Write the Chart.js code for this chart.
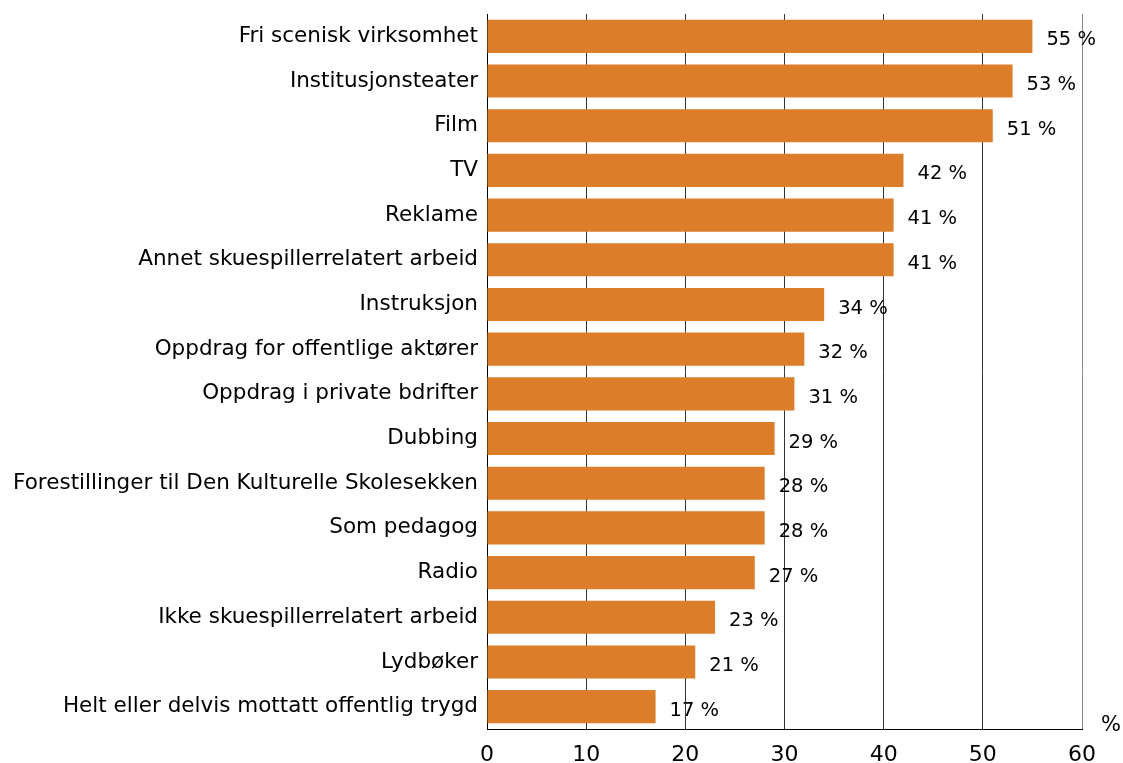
<!DOCTYPE html>
<html>
<head>
<meta charset="utf-8">
<script src="https://cdn.jsdelivr.net/npm/chart.js@4/dist/chart.umd.min.js"></script>
<style>
  html, body { margin: 0; padding: 0; background: #fff; }
  #wrap { width: 1123px; height: 763px; position: relative; }
</style>
</head>
<body>
<div id="wrap"><canvas id="chart"></canvas></div>
<script>
// kategorier og andeler (%)
var categories = [
  'Fri scenisk virksomhet',
  'Institusjonsteater',
  'Film',
  'TV',
  'Reklame',
  'Annet skuespillerrelatert arbeid',
  'Instruksjon',
  'Oppdrag for offentlige aktører',
  'Oppdrag i private bdrifter',
  'Dubbing',
  'Forestillinger til Den Kulturelle Skolesekken',
  'Som pedagog',
  'Radio',
  'Ikke skuespillerrelatert arbeid',
  'Lydbøker',
  'Helt eller delvis mottatt offentlig trygd'
];
var shares = [55, 53, 51, 42, 41, 41, 34, 32, 31, 29, 28, 28, 27, 23, 21, 17];
var xTicks = [0, 10, 20, 30, 40, 50, 60];

var FONT = 'DejaVu Sans, Verdana, sans-serif';

// verdi-etiketter + "%" ved aksen
var labelPlugin = {
  id: 'labels',
  afterDatasetsDraw: function(chart) {
    var ctx = chart.ctx;
    var meta = chart.getDatasetMeta(0);
    ctx.save();
    ctx.font = '19.5px ' + FONT;
    ctx.fillStyle = '#000';
    ctx.textAlign = 'left';
    ctx.textBaseline = 'middle';
    meta.data.forEach(function(bar, i) {
      ctx.fillText(shares[i] + ' %', bar.x + 14, bar.y + 4);
    });
    ctx.font = '21px ' + FONT;
    ctx.textAlign = 'center';
    ctx.fillText('%', chart.chartArea.right + 29, chart.chartArea.bottom - 3);
    ctx.restore();
  }
};

new Chart(document.getElementById('chart'), {
  type: 'bar',
  data: {
    labels: categories,
    datasets: [{
      data: shares,
      backgroundColor: '#db7d29',
      borderWidth: 0,
      categoryPercentage: 1,
      barPercentage: 0.74
    }]
  },
  options: {
    indexAxis: 'y',
    responsive: true,
    maintainAspectRatio: false,
    animation: false,
    devicePixelRatio: 1,
    layout: { padding: { top: 14, right: 41, left: 0, bottom: 0 } },
    plugins: {
      legend: { display: false },
      tooltip: { enabled: false }
    },
    scales: {
      x: {
        min: 0,
        max: 60,
        afterBuildTicks: function(scale) {
          scale.ticks = xTicks.map(function(v) { return { value: v }; });
        },
        afterFit: function(scale) {
          scale.height = 34;
          scale.paddingLeft = 0;
          scale.paddingRight = 0;
        },
        grid: {
          drawTicks: false,
          color: function(c) { return c.tick && c.tick.value === 60 ? '#8a8a8a' : '#333'; },
          lineWidth: 1
        },
        border: { display: true, color: '#000', width: 1 },
        ticks: {
          padding: 13,
          color: '#000',
          font: { family: FONT, size: 22 }
        }
      },
      y: {
        afterFit: function(scale) {
          scale.width = 487;
          scale.paddingTop = 0;
          scale.paddingBottom = 0;
        },
        grid: { display: false, drawTicks: false },
        border: { display: true, color: '#000', width: 1 },
        ticks: {
          padding: 9,
          color: '#000',
          autoSkip: false,
          font: { family: FONT, size: 21.5 }
        }
      }
    }
  },
  plugins: [labelPlugin]
});
</script>
</body>
</html>
